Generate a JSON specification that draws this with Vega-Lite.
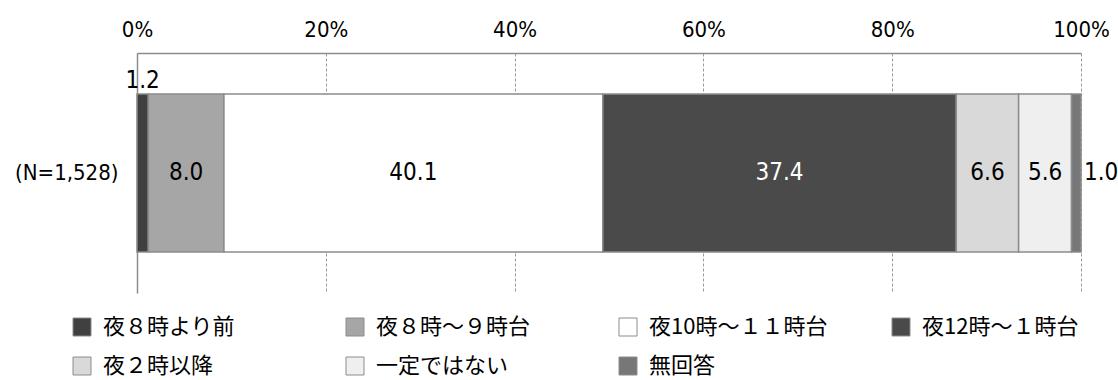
{
  "$schema": "https://vega.github.io/schema/vega-lite/v6.json",
  "width": 944,
  "height": 240,
  "autosize": {"type": "none"},
  "padding": {"left": 137, "top": 53, "right": 37, "bottom": 87},
  "background": "white",
  "config": {"view": {"stroke": null}, "font": "DejaVu Sans Condensed, Roboto, sans-serif"},
  "data": {
    "values": [
      {"group": "(N=1,528)", "cat": "夜８時より前", "ord": 1, "pct": 1.2},
      {"group": "(N=1,528)", "cat": "夜８時～９時台", "ord": 2, "pct": 8.0},
      {"group": "(N=1,528)", "cat": "夜10時～１１時台", "ord": 3, "pct": 40.1},
      {"group": "(N=1,528)", "cat": "夜12時～１時台", "ord": 4, "pct": 37.4},
      {"group": "(N=1,528)", "cat": "夜２時以降", "ord": 5, "pct": 6.6},
      {"group": "(N=1,528)", "cat": "一定ではない", "ord": 6, "pct": 5.6},
      {"group": "(N=1,528)", "cat": "無回答", "ord": 7, "pct": 1.0}
    ]
  },
  "encoding": {
    "y": {
      "field": "group",
      "type": "nominal",
      "scale": {"paddingOuter": 0.26, "paddingInner": 0},
      "axis": {
        "title": null,
        "orient": "left",
        "domain": true,
        "domainColor": "#8c8c8c",
        "domainWidth": 1.5,
        "ticks": false,
        "labelAngle": 0,
        "labelPadding": 19,
        "labelFont": "DejaVu Sans Condensed, Roboto, sans-serif",
        "labelFontSize": 22,
        "labelColor": "#000000"
      }
    }
  },
  "layer": [
    {
      "mark": {"type": "bar", "stroke": "#8c8c8c", "strokeWidth": 1.5},
      "encoding": {
        "x": {
          "field": "pct",
          "type": "quantitative",
          "stack": "normalize",
          "scale": {"domain": [0, 1], "nice": false},
          "axis": {
            "title": null,
            "orient": "top",
            "values": [0, 0.2, 0.4, 0.6, 0.8, 1],
            "format": ".0%",
            "grid": true,
            "gridDash": [3, 2],
            "gridColor": "#9a9a9a",
            "gridWidth": 1,
            "domain": true,
            "domainColor": "#8c8c8c",
            "domainWidth": 1.5,
            "ticks": false,
            "labelPadding": 12,
            "labelFont": "DejaVu Sans Condensed, Roboto, sans-serif",
            "labelFontSize": 22,
            "labelColor": "#000000",
            "labelFlush": false,
            "labelOverlap": false
          }
        },
        "order": {"field": "ord", "type": "quantitative"},
        "color": {
          "field": "cat",
          "type": "nominal",
          "sort": null,
          "scale": {
            "domain": ["夜８時より前", "夜８時～９時台", "夜10時～１１時台", "夜12時～１時台", "夜２時以降", "一定ではない", "無回答"],
            "range": ["#404040", "#a6a6a6", "#ffffff", "#4a4a4a", "#d9d9d9", "#efefef", "#777777"]
          },
          "legend": {
            "title": null,
            "orient": "none",
            "legendX": -66,
            "legendY": 263,
            "direction": "horizontal",
            "columns": 4,
            "gridAlign": "all",
            "columnPadding": 62,
            "rowPadding": 17,
            "symbolType": "square",
            "symbolSize": 324,
            "symbolStrokeColor": "#8c8c8c",
            "symbolStrokeWidth": 1,
            "labelFont": "Noto Sans CJK JP",
            "labelFontSize": 22,
            "labelColor": "#000000",
            "labelOffset": 10,
            "labelLimit": 400,
            "padding": 0
          }
        }
      }
    },
    {
      "mark": {"type": "text", "fontSize": 24, "baseline": "middle", "align": "center"},
      "encoding": {
        "x": {"field": "pct", "type": "quantitative", "stack": "normalize", "bandPosition": 0.5},
        "order": {"field": "ord", "type": "quantitative"},
        "detail": {"field": "cat", "type": "nominal"},
        "text": {"condition": {"test": "datum.pct >= 2", "field": "pct", "type": "quantitative", "format": ".1f"}, "value": ""},
        "color": {"condition": {"test": "datum.ord === 4", "value": "#ffffff"}, "value": "#000000"}
      }
    },
    {
      "mark": {"type": "text", "fontSize": 24, "baseline": "middle", "align": "center", "dy": -92, "color": "#000000"},
      "encoding": {
        "x": {"field": "pct", "type": "quantitative", "stack": "normalize", "bandPosition": 0.5},
        "order": {"field": "ord", "type": "quantitative"},
        "detail": {"field": "cat", "type": "nominal"},
        "text": {"condition": {"test": "datum.ord === 1", "field": "pct", "type": "quantitative", "format": ".1f"}, "value": ""}
      }
    },
    {
      "mark": {"type": "text", "fontSize": 24, "baseline": "middle", "align": "left", "dx": 3, "color": "#000000"},
      "encoding": {
        "x": {"field": "pct", "type": "quantitative", "stack": "normalize"},
        "order": {"field": "ord", "type": "quantitative"},
        "detail": {"field": "cat", "type": "nominal"},
        "text": {"condition": {"test": "datum.ord === 7", "field": "pct", "type": "quantitative", "format": ".1f"}, "value": ""}
      }
    }
  ]
}
